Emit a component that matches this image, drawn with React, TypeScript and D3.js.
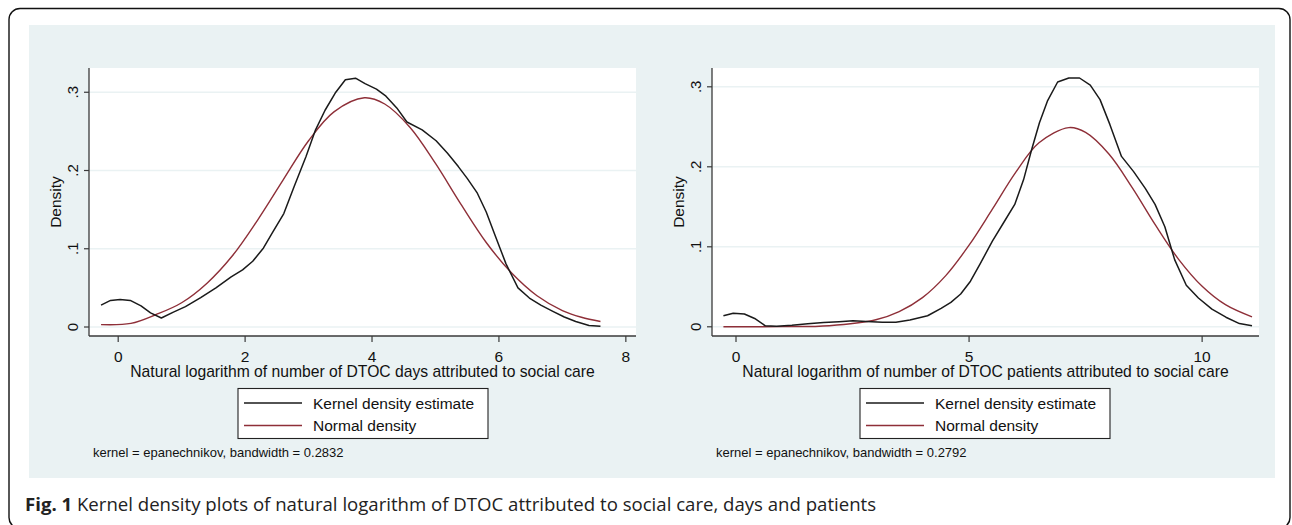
import { useEffect, useRef } from "react";
import * as d3 from "d3";

// Panel A: ln(DTOC days attributed to social care)
const daysKernel: [number, number][] = [
	[-0.27, 0.028], [-0.12, 0.034], [0.03, 0.035], [0.19, 0.034], [0.36, 0.027],
	[0.51, 0.018], [0.68, 0.0115], [0.87, 0.019], [1.06, 0.026], [1.3, 0.0376],
	[1.54, 0.05], [1.78, 0.064], [1.96, 0.073], [2.12, 0.084], [2.29, 0.101],
	[2.44, 0.122], [2.61, 0.145], [2.77, 0.179], [2.96, 0.218], [3.11, 0.252],
	[3.26, 0.277], [3.42, 0.299], [3.58, 0.316], [3.74, 0.318], [3.89, 0.311],
	[4.07, 0.304], [4.22, 0.295], [4.39, 0.28], [4.55, 0.262], [4.79, 0.252],
	[5.01, 0.238], [5.19, 0.222], [5.36, 0.205], [5.5, 0.19], [5.66, 0.171],
	[5.8, 0.147], [5.94, 0.117], [6.11, 0.081], [6.3, 0.05], [6.48, 0.037],
	[6.66, 0.028], [6.85, 0.02], [7.03, 0.0128], [7.21, 0.007], [7.42, 0.002],
	[7.6, 0.001],
];
const daysNormal: [number, number][] = [
	[-0.27, 0.003], [0.2, 0.0046], [0.6, 0.016], [1.0, 0.031], [1.4, 0.056],
	[1.8, 0.091], [2.2, 0.137], [2.6, 0.188], [3.0, 0.238], [3.4, 0.275],
	[3.88, 0.293], [4.2, 0.285], [4.6, 0.255], [5.0, 0.209], [5.4, 0.157],
	[5.8, 0.108], [6.2, 0.069], [6.6, 0.04], [7.0, 0.021], [7.3, 0.0125],
	[7.6, 0.007],
];

// Panel B: ln(DTOC patients attributed to social care)
const patientsKernel: [number, number][] = [
	[-0.27, 0.0138], [-0.06, 0.017], [0.18, 0.016], [0.4, 0.0104], [0.63, 0.0013],
	[0.87, 0.0008], [1.2, 0.002], [1.54, 0.0038], [1.88, 0.0054], [2.21, 0.0063],
	[2.51, 0.0075], [2.8, 0.0067], [3.14, 0.0058], [3.43, 0.0058], [3.73, 0.0084],
	[4.11, 0.0138], [4.4, 0.023], [4.61, 0.0305], [4.82, 0.041], [5.03, 0.057],
	[5.24, 0.079], [5.5, 0.107], [5.75, 0.131], [5.98, 0.153], [6.17, 0.184],
	[6.34, 0.221], [6.51, 0.255], [6.68, 0.282], [6.9, 0.306], [7.14, 0.311],
	[7.37, 0.311], [7.6, 0.302], [7.81, 0.284], [8.02, 0.253], [8.27, 0.213],
	[8.53, 0.194], [8.78, 0.173], [8.99, 0.153], [9.2, 0.125], [9.41, 0.084],
	[9.66, 0.052], [9.92, 0.036], [10.21, 0.022], [10.51, 0.012], [10.8, 0.004],
	[11.07, 0.0013],
];
const patientsNormal: [number, number][] = [
	[-0.27, 0.0], [1.0, 0.0002], [2.0, 0.0014], [3.0, 0.0088], [3.5, 0.019],
	[4.0, 0.0365], [4.5, 0.064], [5.0, 0.102], [5.5, 0.147], [6.0, 0.193],
	[6.5, 0.23], [7.14, 0.249], [7.5, 0.243], [8.0, 0.216], [8.5, 0.174],
	[9.0, 0.127], [9.5, 0.084], [10.0, 0.0506], [10.5, 0.0276], [11.07, 0.0124],
];

const daysXTicks = [0, 2, 4, 6, 8];
const patientsXTicks = [0, 5, 10];
const yTicks = [0, 0.1, 0.2, 0.3];
const yTickLabels = ["0", ".1", ".2", ".3"];
const legendLabels = ["Kernel density estimate", "Normal density"];
const xTitles = [
	"Natural logarithm of number of DTOC days attributed to social care",
	"Natural logarithm of number of DTOC patients attributed to social care",
];
const bandwidths = ["0.2832", "0.2792"];

const KERNEL_COLOR = "#1a1a1a";
const NORMAL_COLOR = "#8e2f38";
const AXIS_COLOR = "#3a3a3a";
const PANEL_BG = "#eaf2f3";
const FONT = "'Liberation Sans', Arial, sans-serif";

const App = () => {
	const svgRef = useRef<SVGSVGElement>(null);

	useEffect(() => {
		if (!svgRef.current) return;
		const svg = d3.select(svgRef.current);
		svg.selectAll("*").remove();

		// outer frame
		svg
			.append("rect")
			.attr("x", 9)
			.attr("y", 8.5)
			.attr("width", 1281)
			.attr("height", 520)
			.attr("rx", 11)
			.attr("fill", "#fff")
			.attr("stroke", "#111")
			.attr("stroke-width", 1.4);

		// light graph region
		svg
			.append("rect")
			.attr("x", 29)
			.attr("y", 25)
			.attr("width", 1246)
			.attr("height", 453)
			.attr("fill", PANEL_BG);

		const panels = [
			{
				left: 89, right: 636, top: 68, bottom: 336,
				xDomain: [-0.46, 8.16], yDomain: [-0.0115, 0.331],
				xTicks: daysXTicks, kernel: daysKernel, normal: daysNormal,
				legend: { x: 238, lineX: 244, textX: 313 }, noteX: 93,
			},
			{
				left: 712, right: 1259, top: 68, bottom: 336,
				xDomain: [-0.515, 11.22], yDomain: [-0.0115, 0.3235],
				xTicks: patientsXTicks, kernel: patientsKernel, normal: patientsNormal,
				legend: { x: 860, lineX: 866, textX: 935 }, noteX: 716,
			},
		];

		panels.forEach((p, i) => {
			const x = d3.scaleLinear().domain(p.xDomain).range([p.left, p.right]);
			const y = d3.scaleLinear().domain(p.yDomain).range([p.bottom, p.top]);
			const g = svg.append("g");

			// plot area
			g.append("rect")
				.attr("x", p.left)
				.attr("y", p.top)
				.attr("width", p.right - p.left)
				.attr("height", p.bottom - p.top)
				.attr("fill", "#fff");

			// gridlines
			g.selectAll(".grid")
				.data(yTicks)
				.join("line")
				.attr("x1", p.left)
				.attr("x2", p.right)
				.attr("y1", (d) => y(d))
				.attr("y2", (d) => y(d))
				.attr("stroke", PANEL_BG)
				.attr("stroke-width", 1.6);

			// curves
			const kernelLine = d3
				.line<[number, number]>()
				.x((d) => x(d[0]))
				.y((d) => y(d[1]))
				.curve(d3.curveLinear);
			const normalLine = d3
				.line<[number, number]>()
				.x((d) => x(d[0]))
				.y((d) => y(d[1]))
				.curve(d3.curveCatmullRom);

			g.append("path")
				.attr("d", normalLine(p.normal))
				.attr("fill", "none")
				.attr("stroke", NORMAL_COLOR)
				.attr("stroke-width", 1.4);
			g.append("path")
				.attr("d", kernelLine(p.kernel))
				.attr("fill", "none")
				.attr("stroke", KERNEL_COLOR)
				.attr("stroke-width", 1.5)
				.attr("stroke-linejoin", "round");

			// axes
			g.append("line")
				.attr("x1", p.left)
				.attr("x2", p.left)
				.attr("y1", p.top)
				.attr("y2", p.bottom)
				.attr("stroke", AXIS_COLOR)
				.attr("stroke-width", 1.3);
			g.append("line")
				.attr("x1", p.left)
				.attr("x2", p.right)
				.attr("y1", p.bottom)
				.attr("y2", p.bottom)
				.attr("stroke", AXIS_COLOR)
				.attr("stroke-width", 1.3);

			// y ticks
			g.selectAll(".ytick")
				.data(yTicks)
				.join("line")
				.attr("x1", p.left - 5)
				.attr("x2", p.left)
				.attr("y1", (d) => y(d))
				.attr("y2", (d) => y(d))
				.attr("stroke", AXIS_COLOR)
				.attr("stroke-width", 1.2);
			g.selectAll(".ylabel")
				.data(yTicks)
				.join("text")
				.attr("transform", (d) => `translate(${p.left - 11}, ${y(d)}) rotate(-90)`)
				.attr("text-anchor", "middle")
				.style("font-family", FONT)
				.style("font-size", "15px")
				.style("fill", "#111")
				.text((_, j) => yTickLabels[j]);

			g.append("text")
				.attr("transform", `translate(${p.left - 28}, ${(p.top + p.bottom) / 2}) rotate(-90)`)
				.attr("text-anchor", "middle")
				.style("font-family", FONT)
				.style("font-size", "15.5px")
				.style("fill", "#111")
				.text("Density");

			// x ticks
			g.selectAll(".xtick")
				.data(p.xTicks)
				.join("line")
				.attr("x1", (d) => x(d))
				.attr("x2", (d) => x(d))
				.attr("y1", p.bottom)
				.attr("y2", p.bottom + 6)
				.attr("stroke", AXIS_COLOR)
				.attr("stroke-width", 1.2);
			g.selectAll(".xlabel")
				.data(p.xTicks)
				.join("text")
				.attr("x", (d) => x(d))
				.attr("y", 362)
				.attr("text-anchor", "middle")
				.style("font-family", FONT)
				.style("font-size", "15.5px")
				.style("fill", "#111")
				.text((d) => String(d));

			g.append("text")
				.attr("x", (p.left + p.right) / 2)
				.attr("y", 377)
				.attr("text-anchor", "middle")
				.style("font-family", FONT)
				.style("font-size", "15.7px")
				.style("fill", "#111")
				.text(xTitles[i]);

			// legend
			const lg = g.append("g");
			lg.append("rect")
				.attr("x", p.legend.x)
				.attr("y", 388.5)
				.attr("width", 250)
				.attr("height", 50)
				.attr("fill", "#fff")
				.attr("stroke", "#222")
				.attr("stroke-width", 1.1);
			[KERNEL_COLOR, NORMAL_COLOR].forEach((c, k) => {
				const ly = 403 + k * 22.5;
				lg.append("line")
					.attr("x1", p.legend.lineX)
					.attr("x2", p.legend.lineX + 58)
					.attr("y1", ly)
					.attr("y2", ly)
					.attr("stroke", c)
					.attr("stroke-width", 1.5);
				lg.append("text")
					.attr("x", p.legend.textX)
					.attr("y", ly + 5.5)
					.style("font-family", FONT)
					.style("font-size", "15.5px")
					.style("fill", "#111")
					.text(legendLabels[k]);
			});

			g.append("text")
				.attr("x", p.noteX)
				.attr("y", 457)
				.style("font-family", FONT)
				.style("font-size", "13px")
				.style("fill", "#111")
				.text(`kernel = epanechnikov, bandwidth = ${bandwidths[i]}`);
		});

		// caption
		const cap = svg
			.append("text")
			.attr("x", 25)
			.attr("y", 511)
			.style("font-family", "'Open Sans', sans-serif")
			.style("font-size", "18.6px")
			.style("fill", "#222");
		cap.append("tspan").style("font-weight", "bold").text("Fig. 1");
		cap
			.append("tspan")
			.text(
				" Kernel density plots of natural logarithm of DTOC attributed to social care, days and patients"
			);
	}, []);

	return (
		<svg
			ref={svgRef}
			width={1292}
			height={525}
			style={{ position: "absolute", left: 0, top: 0 }}
		/>
	);
};

export default App;
